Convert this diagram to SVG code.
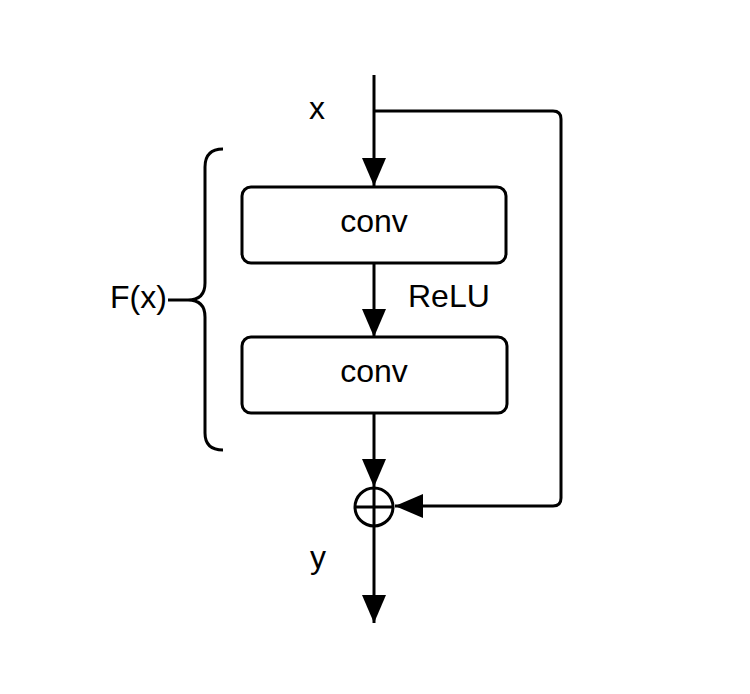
<svg xmlns="http://www.w3.org/2000/svg" width="750" height="694" viewBox="0 0 750 694">
<defs>
<style>
.ln{fill:none;stroke:#000;stroke-width:3;stroke-linejoin:round}
.box{fill:#fff;stroke:#000;stroke-width:3}
.t{font-family:"Liberation Sans",Arial,sans-serif;font-size:32px;fill:#000}
</style>
<marker id="ah" viewBox="0 0 28 24" refX="28" refY="12" markerWidth="28" markerHeight="24" markerUnits="userSpaceOnUse" orient="auto">
<path d="M0,0 L28,12 L0,24 Z" fill="#000"/>
</marker>
</defs>
<rect width="750" height="694" fill="#fff"/>
<g id="connectors">
<path class="ln" d="M374,75 V186" marker-end="url(#ah)"/>
<path class="ln" d="M374,111 H553 Q561,111 561,119 V498 Q561,506 553,506 H395" marker-end="url(#ah)"/>
<path class="ln" d="M374,263 V337" marker-end="url(#ah)"/>
<path class="ln" d="M374,413 V487" marker-end="url(#ah)"/>
<path class="ln" d="M374,526 V623" marker-end="url(#ah)"/>
<path class="ln" d="M223,149 Q205,149 205,167 V283 Q205,300 188,300 H168 M188,300 Q205,300 205,317 V433 Q205,450 223,450"/>
</g>
<g id="conv1">
<rect class="box" x="242" y="187" width="264" height="76" rx="9"/>
<text class="t" x="374" y="232" text-anchor="middle">conv</text>
</g>
<g id="conv2">
<rect class="box" x="242" y="337" width="265" height="76" rx="9"/>
<text class="t" x="374" y="382" text-anchor="middle">conv</text>
</g>
<g id="sum">
<circle cx="374" cy="507" r="19" fill="#fff" stroke="#000" stroke-width="3"/>
<path class="ln" d="M355,507 H393 M374,488 V526"/>
</g>
<g id="labels">
<text class="t" x="317" y="119" text-anchor="middle">x</text>
<text class="t" x="318" y="568" text-anchor="middle">y</text>
<text class="t" x="408" y="307">ReLU</text>
<text class="t" x="110" y="308">F(x)</text>
</g>
</svg>
